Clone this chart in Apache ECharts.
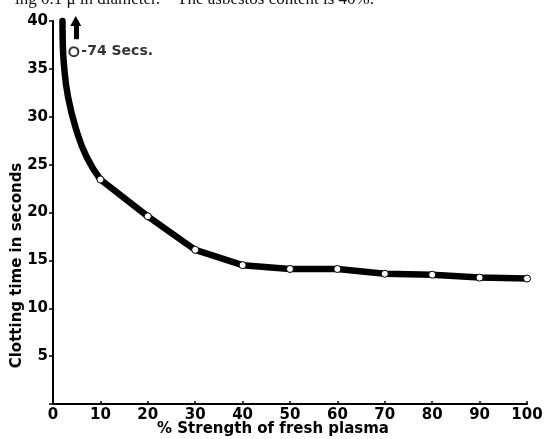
<!DOCTYPE html>
<html>
<head>
<meta charset="utf-8">
<script src="https://cdn.jsdelivr.net/npm/echarts@6/dist/echarts.min.js"></script>
<style>
  html, body { margin: 0; padding: 0; background: #fff; }
  #chart { width: 555px; height: 439px; }
</style>
</head>
<body>
<div id="chart"></div>
<script>
// 血浆浓度 (%) 与凝血时间 (秒)
const strength = [10, 20, 30, 40, 50, 60, 70, 80, 90, 100];
const clotting = [23.45, 19.6, 16.1, 14.5, 14.1, 14.1, 13.6, 13.5, 13.2, 13.1];

// 0% 附近的曲线 (无测量点)
const curveX = [2.0, 2.05, 2.3, 3.2, 5.0, 7.1, 10];
const curveY = [40, 38, 35.5, 32, 28.5, 25.8, 23.45];

// 0% 时的值超出刻度 (74 秒)
const offScale = [4.4, 36.8];
const offScaleLabel = "-74 Secs.";

const xTicks = [0, 10, 20, 30, 40, 50, 60, 70, 80, 90, 100];
const yTicks = [5, 10, 15, 20, 25, 30, 35, 40];

const font = "DejaVu Sans";
const chart = echarts.init(document.getElementById("chart"));

const option = {
  animation: false,
  title: {
    text: "ing 0.1 \u03bc in diameter.    The asbestos content is 40%.",
    left: 10,
    top: -14,
    textStyle: { fontFamily: "Liberation Serif", fontSize: 17, fontWeight: "normal", color: "#111" },
  },
  grid: { left: 53, right: 28, top: 21, bottom: 35, outerBoundsMode: "none" },
  xAxis: {
    type: "value",
    min: 0,
    max: 100,
    interval: 10,
    name: "% Strength of fresh plasma",
    nameLocation: "middle",
    nameGap: 18,
    nameMoveOverlap: false,
    nameTextStyle: {
      fontFamily: font, fontSize: 15, fontWeight: "bold", color: "#000",
      padding: [0, 34, 0, 0],
    },
    axisLine: { lineStyle: { color: "#000", width: 2 } },
    axisTick: { inside: true, length: 3, lineStyle: { color: "#000", width: 1.5 } },
    axisLabel: {
      margin: 4,
      fontFamily: font, fontSize: 15, fontWeight: "bold", color: "#000",
      formatter: (v) => (xTicks.includes(v) ? String(v) : ""),
    },
    splitLine: { show: false },
  },
  yAxis: {
    type: "value",
    min: 0,
    max: 40,
    interval: 5,
    name: "Clotting time in seconds",
    nameLocation: "middle",
    nameGap: 28,
    nameMoveOverlap: false,
    nameTextStyle: {
      fontFamily: font, fontSize: 15, fontWeight: "bold", color: "#000",
      padding: [0, 106, 0, 0],
    },
    axisLine: { lineStyle: { color: "#000", width: 2 } },
    axisTick: { length: 4, lineStyle: { color: "#000", width: 1.5 } },
    axisLabel: {
      margin: 5,
      fontFamily: font, fontSize: 15, fontWeight: "bold", color: "#000",
      formatter: (v) => (yTicks.includes(v) ? String(v) : ""),
    },
    splitLine: { show: false },
  },
  series: [
    {
      name: "curve",
      type: "line",
      smooth: 0.5,
      showSymbol: false,
      clip: false,
      lineStyle: { color: "#000", width: 6.5, cap: "round" },
      data: curveX.map((x, i) => [x, curveY[i]]),
      z: 2,
    },
    {
      name: "clotting",
      type: "line",
      symbol: "circle",
      symbolSize: 7,
      itemStyle: { color: "#fff", borderColor: "#000", borderWidth: 1 },
      lineStyle: { color: "#000", width: 6.5, cap: "round", join: "round" },
      data: strength.map((x, i) => [x, clotting[i]]),
      z: 3,
    },
    {
      name: "offscale",
      type: "scatter",
      symbol: "circle",
      symbolSize: 9,
      itemStyle: { color: "#fff", borderColor: "#000", borderWidth: 2 },
      label: {
        show: true,
        position: "right",
        distance: 2,
        formatter: offScaleLabel,
        fontFamily: font, fontSize: 14, fontWeight: "bold", color: "#000",
      },
      data: [offScale],
      markLine: {
        silent: true,
        symbol: ["none", "triangle"],
        symbolSize: [11, 10],
        label: { show: false },
        lineStyle: { color: "#000", width: 5, type: "solid" },
        data: [[{ coord: [4.8, 38.1] }, { coord: [4.8, 40] }]],
      },
      z: 4,
    },
  ],
};

chart.setOption(option);
</script>
</body>
</html>
